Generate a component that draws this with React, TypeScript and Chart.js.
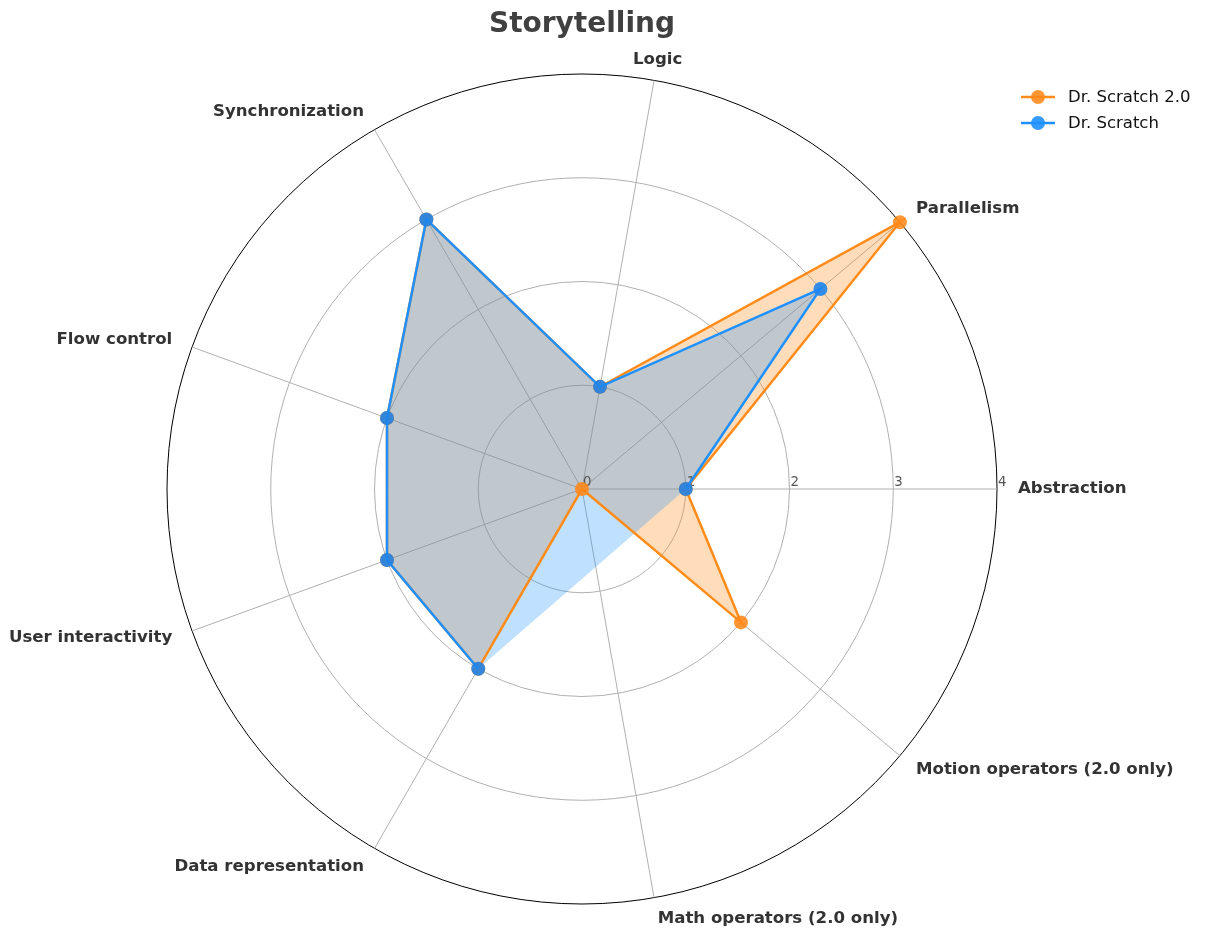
import { useEffect, useRef } from "react";
import { Chart, registerables } from "chart.js";

Chart.register(...registerables);

// ---- data ----
const TITLE = "Storytelling";
// order is clockwise in Chart.js starting at east => appears counter-clockwise like the reference
const categories = [
  "Abstraction",
  "Motion operators (2.0 only)",
  "Math operators (2.0 only)",
  "Data representation",
  "User interactivity",
  "Flow control",
  "Synchronization",
  "Logic",
  "Parallelism",
];
const scratch2Values: (number | null)[] = [1, 2, 0, 2, 2, 2, 3, 1, 4];
const scratchValues: (number | null)[] = [1, null, null, 2, 2, 2, 3, 1, 3];
const tickValues = [0, 1, 2, 3, 4];
const seriesNames = ["Dr. Scratch 2.0", "Dr. Scratch"];

// ---- styles ----
const ORANGE = "#FF8C1A";
const BLUE = "#1E90FF";
const ORANGE_FILL = "rgba(255,140,26,0.3)";
const BLUE_FILL = "rgba(30,144,255,0.28)";
const ORANGE_MARK = "rgba(255,136,24,0.88)";
const BLUE_MARK = "rgba(30,132,235,0.9)";
const FONT = '"DejaVu Sans", "Liberation Sans", sans-serif';
const LABEL_GAP = 21;

const decorPlugin = {
  id: "decor",
  beforeDatasetsDraw(chart: any) {
    const scale = chart.scales.r;
    const ctx = chart.ctx as CanvasRenderingContext2D;
    ctx.save();
    ctx.font = `13.3px ${FONT}`;
    ctx.fillStyle = "#555555";
    ctx.textAlign = "left";
    ctx.textBaseline = "alphabetic";
    tickValues.forEach((v) => {
      const p = scale.getPointPositionForValue(0, v);
      ctx.fillText(String(v), p.x + 1, p.y - 3);
    });
    ctx.restore();
  },
  afterDraw(chart: any) {
    const scale = chart.scales.r;
    const ctx = chart.ctx as CanvasRenderingContext2D;
    ctx.save();
    // point labels
    ctx.font = `bold 16.6px ${FONT}`;
    ctx.fillStyle = "#333333";
    ctx.textBaseline = "middle";
    categories.forEach((label, i) => {
      const p = scale.getPointPosition(i, scale.drawingArea + LABEL_GAP);
      const dx = p.x - scale.xCenter;
      const dy = scale.yCenter - p.y;
      const d = Math.hypot(dx, dy);
      ctx.textAlign =
        dy > 0 && Math.abs(dx) < 0.2 * d ? "center" : dx > 0 ? "left" : "right";
      ctx.fillText(label, p.x, p.y);
    });
    // title
    ctx.font = `bold 28px ${FONT}`;
    ctx.fillStyle = "#404040";
    ctx.textAlign = "center";
    ctx.textBaseline = "alphabetic";
    ctx.fillText(TITLE, scale.xCenter, 32);
    // legend
    const lineColors = [ORANGE, BLUE];
    const markColors = [ORANGE_MARK, "rgba(30,144,255,0.9)"];
    seriesNames.forEach((name, i) => {
      const y = 97 + i * 26;
      ctx.strokeStyle = lineColors[i];
      ctx.lineWidth = 2.5;
      ctx.beginPath();
      ctx.moveTo(1021, y);
      ctx.lineTo(1055, y);
      ctx.stroke();
      ctx.fillStyle = markColors[i];
      ctx.beginPath();
      ctx.arc(1038, y, 7, 0, Math.PI * 2);
      ctx.fill();
      ctx.fillStyle = "#111111";
      ctx.font = `16.5px ${FONT}`;
      ctx.textAlign = "left";
      ctx.textBaseline = "middle";
      ctx.fillText(name, 1068, y + 1);
    });
    ctx.restore();
  },
};

export default function App() {
  const ref = useRef<HTMLCanvasElement>(null);

  useEffect(() => {
    const canvas = ref.current!;
    const chart = new Chart(canvas, {
      type: "radar",
      data: {
        labels: categories,
        datasets: [
          {
            label: seriesNames[0],
            data: scratch2Values,
            borderColor: ORANGE,
            borderWidth: 2.5,
            backgroundColor: ORANGE_FILL,
            fill: "origin",
            pointRadius: 7,
            pointBorderWidth: 0,
            pointBackgroundColor: ORANGE_MARK,
            pointBorderColor: "transparent",
            order: 3,
          },
          {
            label: seriesNames[1] + " fill",
            data: scratchValues,
            borderColor: "transparent",
            borderWidth: 0,
            backgroundColor: BLUE_FILL,
            fill: "origin",
            spanGaps: true,
            pointRadius: 0,
            order: 2,
          },
          {
            label: seriesNames[1],
            data: scratchValues,
            borderColor: BLUE,
            borderWidth: 2.5,
            backgroundColor: "transparent",
            fill: false,
            spanGaps: false,
            pointRadius: 7,
            pointBorderWidth: 0,
            pointBackgroundColor: BLUE_MARK,
            pointBorderColor: "transparent",
            order: 1,
          },
        ],
      },
      options: {
        responsive: false,
        devicePixelRatio: 1,
        animation: false,
        layout: { padding: { left: 132, right: 175, top: 74, bottom: 32 } },
        plugins: {
          legend: { display: false },
          title: { display: false },
          tooltip: { enabled: false },
          filler: { drawTime: "beforeDatasetsDraw" },
        } as any,
        scales: {
          r: {
            min: 0,
            max: 4,
            startAngle: 90,
            beginAtZero: true,
            ticks: { display: false, stepSize: 1 },
            pointLabels: { display: false },
            grid: {
              circular: true,
              color: (c: any) => (c.tick && c.tick.value === 4 ? "#000000" : "#b0b0b0"),
              lineWidth: 1,
            },
            angleLines: { display: true, color: "#b0b0b0", lineWidth: 1 },
          },
        },
      },
      plugins: [decorPlugin],
    });
    return () => chart.destroy();
  }, []);

  return (
    <div
      style={{
        position: "absolute",
        left: 0,
        top: 0,
        width: 1207,
        height: 936,
        background: "#ffffff",
      }}
    >
      <canvas ref={ref} width={1207} height={936} style={{ display: "block" }} />
    </div>
  );
}
